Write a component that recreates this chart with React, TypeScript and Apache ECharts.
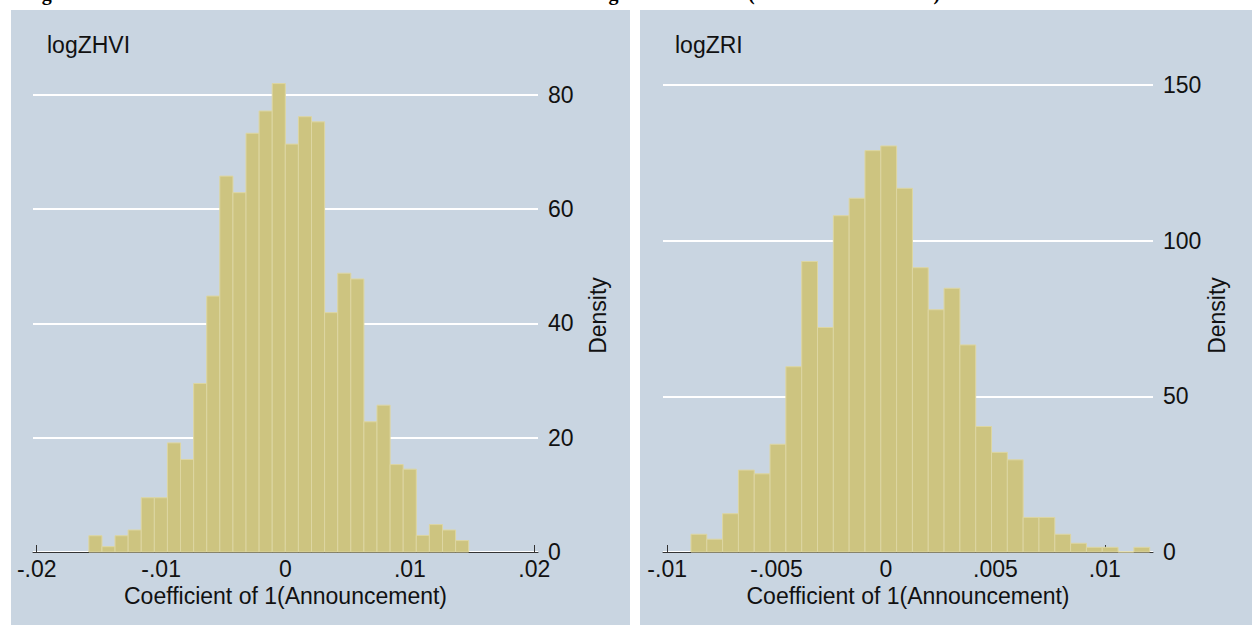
import React, { useEffect, useRef } from "react";
import * as echarts from "echarts";

// ---- data ----
const figureTitle =
  "Figure 2: Distribution of Estimated Announcement Coefficients Using Placebo Dates (1000 Random Draws)";

const leftLabel = "logZHVI";
const rightLabel = "logZRI";
const xAxisTitle = "Coefficient of 1(Announcement)";
const yAxisTitle = "Density";

// left histogram (logZHVI): uniform bins
const leftBinStart = -0.01581;
const leftBinWidth = 0.001053;
const leftDensity = [
  2.85, 0.93, 2.85, 3.85, 9.5, 9.5, 19.1, 16.2, 29.5, 44.8, 65.8, 62.9, 73.3,
  77.2, 82.0, 71.4, 76.2, 75.3, 41.9, 48.8, 47.8, 22.8, 25.7, 15.3, 14.5, 2.9,
  4.8, 3.85, 2.0,
];
const leftXTicks = [-0.02, -0.01, 0, 0.01, 0.02];
const leftYTicks = [0, 20, 40, 60, 80];
const leftXRange = [-0.0203, 0.0203];
const leftYMax = 82.8;

// right histogram (logZRI): uniform bins
const rightBinStart = -0.008912;
const rightBinWidth = 0.0007228;
const rightDensity = [
  5.7, 4.1, 12.3, 26.3, 25.1, 34.6, 59.5, 93.3, 72.1, 108.0, 113.6, 128.9,
  130.4, 116.8, 91.3, 77.8, 84.7, 66.5, 40.3, 32.0, 29.6, 11.1, 11.1, 5.7, 2.8,
  1.5, 1.5, 0, 1.5,
];
const rightXTicks = [-0.01, -0.005, 0, 0.005, 0.01];
const rightYTicks = [0, 50, 100, 150];
const rightXRange = [-0.01019, 0.0122];
const rightYMax = 151.9;

// ---- styling ----
const PANEL_BG = "#C9D5E1";
const BAR_FILL = "#CDC480";
const BAR_EDGE = "#DDD6A2";
const TEXT = "#111111";
const AXIS = "#333333";
const FONT = '"Liberation Sans", Arial, Helvetica, sans-serif';

function bins(start: number, width: number, vals: number[]) {
  return vals.map((h, i) => [start + i * width, start + (i + 1) * width, h]);
}

function fmt(v: number) {
  if (v === 0) return "0";
  return String(v).replace("0.", ".");
}

function histSeries(idx: number, data: number[][]) {
  return {
    type: "custom",
    xAxisIndex: idx,
    yAxisIndex: idx,
    z: 2,
    encode: { x: [0, 1], y: 2 },
    data,
    renderItem: (params: any, api: any) => {
      const p0 = api.coord([api.value(0), api.value(2)]);
      const p1 = api.coord([api.value(1), 0]);
      return {
        type: "rect",
        shape: { x: p0[0], y: p0[1], width: p1[0] - p0[0], height: p1[1] - p0[1] },
        style: { fill: BAR_FILL, stroke: BAR_EDGE, lineWidth: 1 },
      };
    },
  };
}

function xAxisOpt(idx: number, range: number[], ticks: number[]) {
  return {
    type: "value",
    gridIndex: idx,
    min: range[0],
    max: range[1],
    position: "bottom",
    axisLine: { show: true, onZero: false, lineStyle: { color: AXIS, width: 1 } },
    axisTick: { show: true, inside: true, length: 7, customValues: ticks, lineStyle: { color: AXIS } },
    axisLabel: {
      customValues: ticks,
      formatter: fmt,
      margin: 5,
      fontSize: 23,
      color: TEXT,
      fontFamily: FONT,
    },
    splitLine: { show: false },
    name: xAxisTitle,
    nameLocation: "middle",
    nameGap: 29,
    nameTextStyle: { fontSize: 23, color: TEXT, fontFamily: FONT },
  };
}

function yAxisOpt(idx: number, max: number, ticks: number[]) {
  return {
    type: "value",
    gridIndex: idx,
    min: 0,
    max,
    position: "right",
    axisLine: { show: false },
    axisTick: { show: false, customValues: ticks },
    axisLabel: {
      customValues: ticks,
      margin: 10,
      fontSize: 23,
      color: TEXT,
      fontFamily: FONT,
      padding: [4, 0, 0, 0],
    },
    splitLine: { show: true, lineStyle: { color: "#FFFFFF", width: 2 } },
    name: yAxisTitle,
    nameLocation: "middle",
    nameRotate: 90,
    nameGap: 48,
    nameTextStyle: { fontSize: 23, color: TEXT, fontFamily: FONT },
  };
}

export default function App() {
  const ref = useRef<HTMLDivElement>(null);
  useEffect(() => {
    if (!ref.current) return;
    const chart = echarts.init(ref.current, null, { renderer: "svg" });
    const option: any = {
      animation: false,
      backgroundColor: "#FFFFFF",
      graphic: {
        elements: [
          { type: "rect", z: -10, shape: { x: 11, y: 10, width: 619, height: 615 }, style: { fill: PANEL_BG } },
          { type: "rect", z: -10, shape: { x: 640, y: 10, width: 612, height: 615 }, style: { fill: PANEL_BG } },
          {
            type: "text",
            z: 10,
            style: {
              text: figureTitle,
              x: 24,
              y: 3,
              verticalAlign: "bottom",
              fontSize: 20,
              fontWeight: "bold",
              fontFamily: '"Liberation Serif", "Times New Roman", serif',
              fill: "#000",
            },
          },
          {
            type: "text",
            z: 10,
            style: { text: leftLabel, x: 47, y: 45, verticalAlign: "middle", fontSize: 23, fontFamily: FONT, fill: TEXT },
          },
          {
            type: "text",
            z: 10,
            style: { text: rightLabel, x: 675, y: 45, verticalAlign: "middle", fontSize: 23, fontFamily: FONT, fill: TEXT },
          },
        ],
      },
      grid: [
        { left: 33, right: 1252 - 538, top: 79, bottom: 627 - 552 },
        { left: 663, right: 1252 - 1153, top: 79, bottom: 627 - 552 },
      ],
      xAxis: [xAxisOpt(0, leftXRange, leftXTicks), xAxisOpt(1, rightXRange, rightXTicks)],
      yAxis: [yAxisOpt(0, leftYMax, leftYTicks), yAxisOpt(1, rightYMax, rightYTicks)],
      series: [
        histSeries(0, bins(leftBinStart, leftBinWidth, leftDensity)),
        histSeries(1, bins(rightBinStart, rightBinWidth, rightDensity)),
      ],
    };
    chart.setOption(option);
    return () => chart.dispose();
  }, []);
  return (
    <div
      ref={ref}
      style={{ position: "fixed", left: 0, top: 0, width: 1252, height: 627 }}
    />
  );
}
